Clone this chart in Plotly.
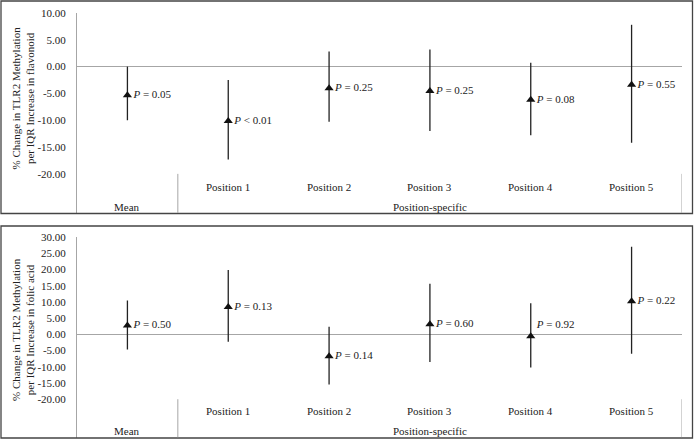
import plotly.graph_objects as go

# ---- data ----
categories = ["Mean", "Position 1", "Position 2", "Position 3", "Position 4", "Position 5"]
group_labels = ["Mean", "Position-specific"]

flav_est = [-5.35, -10.15, -4.05, -4.55, -6.2, -3.4]
flav_lo = [-10.0, -17.3, -10.3, -12.0, -12.8, -14.2]
flav_hi = [0.0, -2.5, 2.8, 3.2, 0.7, 7.8]
flav_p = ["= 0.05", "< 0.01", "= 0.25", "= 0.25", "= 0.08", "= 0.55"]

fol_est = [2.7, 8.4, -6.75, 3.1, -0.6, 10.2]
fol_lo = [-4.7, -2.3, -15.5, -8.5, -10.2, -6.0]
fol_hi = [10.4, 19.8, 2.3, 15.6, 9.6, 27.0]
fol_p = ["= 0.50", "= 0.13", "= 0.14", "= 0.60", "= 0.92", "= 0.22"]

flav_ticks = [10, 5, 0, -5, -10, -15, -20]
fol_ticks = [30, 25, 20, 15, 10, 5, 0, -5, -10, -15, -20]

flav_title = "% Change in TLR2 Methylation<br>per IQR Increase in flavonoid"
fol_title = "% Change in TLR2 Methylation<br>per IQR Increase in folic acid"

FONT = "Liberation Serif, Times New Roman, serif"
W, H = 694, 439

fig = go.Figure()


def add_panel(est, lo, hi, pv, xa, ya, text_pos):
    fig.add_trace(go.Scatter(
        x=categories, y=est, xaxis=xa, yaxis=ya,
        mode="markers+text",
        marker=dict(symbol="triangle-up", size=8, color="#111"),
        error_y=dict(type="data", symmetric=False,
                     array=[h - e for h, e in zip(hi, est)],
                     arrayminus=[e - l for e, l in zip(est, lo)],
                     width=0, thickness=1.3, color="#222"),
        text=["<i>P</i> " + p for p in pv],
        textposition=text_pos,
        textfont=dict(family=FONT, size=11, color="#222"),
        showlegend=False, cliponaxis=False, hoverinfo="skip",
    ))


add_panel(flav_est, flav_lo, flav_hi, flav_p, "x", "y", ["middle right"] * 6)
add_panel(fol_est, fol_lo, fol_hi, fol_p, "x2", "y2",
          ["middle right"] * 4 + ["top right", "middle right"])

xdom = [77 / W, 682 / W]
top_dom = [(H - 213) / H, (H - 13) / H]
bot_dom = [(H - 437.5) / H, (H - 237) / H]

top_range = [-27.3, 10]
bot_range = [-31.8, 30]

axis_common = dict(showgrid=False, showline=True, linecolor="#a6a6a6", linewidth=1,
                   zeroline=True, zerolinecolor="#a6a6a6", zerolinewidth=1,
                   ticks="", ticklabelstandoff=8, automargin=False,
                   tickfont=dict(family=FONT, size=11, color="#222"))

xcommon = dict(showgrid=False, showline=False, zeroline=False, showticklabels=False,
               range=[-0.5, 5.5], type="category", categoryorder="array",
               categoryarray=categories, automargin=False)

fig.update_layout(
    width=W, height=H,
    margin=dict(l=0, r=0, t=0, b=0, pad=0, autoexpand=False),
    paper_bgcolor="white", plot_bgcolor="white",
    xaxis=dict(domain=xdom, anchor="y", **xcommon),
    xaxis2=dict(domain=xdom, anchor="y2", **xcommon),
    yaxis=dict(domain=top_dom, anchor="x", range=top_range,
               tickvals=flav_ticks, ticktext=[f"{v:.2f}" for v in flav_ticks],
               **axis_common),
    yaxis2=dict(domain=bot_dom, anchor="x2", range=bot_range,
                tickvals=fol_ticks, ticktext=[f"{v:.2f}" for v in fol_ticks],
                **axis_common),
)

shapes = []
annotations = []

# panel borders
for y0, y1 in [(1, 213.5), (226, 438)]:
    shapes.append(dict(type="rect", xref="paper", yref="paper",
                       x0=1 / W, x1=692.5 / W, y0=(H - y1) / H, y1=(H - y0) / H,
                       line=dict(color="#444", width=1.3)))

for xr, yr, rng, row1, row2 in [("x", "y", top_range, -22.5, -26.1),
                                ("x2", "y2", bot_range, -23.6, -29.8)]:
    # category dividers
    for xv in [0.5, 5.5]:
        shapes.append(dict(type="line", xref=xr, yref=yr, x0=xv, x1=xv,
                           y0=-20, y1=rng[0], line=dict(color="#a6a6a6", width=1)))
    # category labels
    for i, c in enumerate(categories[1:], start=1):
        annotations.append(dict(x=i, y=row1, xref=xr, yref=yr, text=c, showarrow=False,
                                font=dict(family=FONT, size=11, color="#222")))
    annotations.append(dict(x=0, y=row2, xref=xr, yref=yr, text=group_labels[0],
                            showarrow=False, font=dict(family=FONT, size=11, color="#222")))
    annotations.append(dict(x=3, y=row2, xref=xr, yref=yr, text=group_labels[1],
                            showarrow=False, font=dict(family=FONT, size=11, color="#222")))

# y-axis titles
for title, yp in [(flav_title, (H - 98) / H), (fol_title, (H - 329.5) / H)]:
    annotations.append(dict(x=22.5 / W, y=yp, xref="paper", yref="paper", text=title,
                            textangle=-90, showarrow=False, xanchor="center", yanchor="middle",
                            font=dict(family=FONT, size=11, color="#222")))

fig.update_layout(shapes=shapes, annotations=annotations)

fig.write_html(
    "out.html",
    config={"displayModeBar": False},
    post_script=(
        "document.body.style.margin='0';document.body.style.overflow='hidden';"
        "var gd=document.getElementById('{plot_id}');"
        "gd.style.position='absolute';gd.style.top='0px';gd.style.left='0px';"
    ),
)
